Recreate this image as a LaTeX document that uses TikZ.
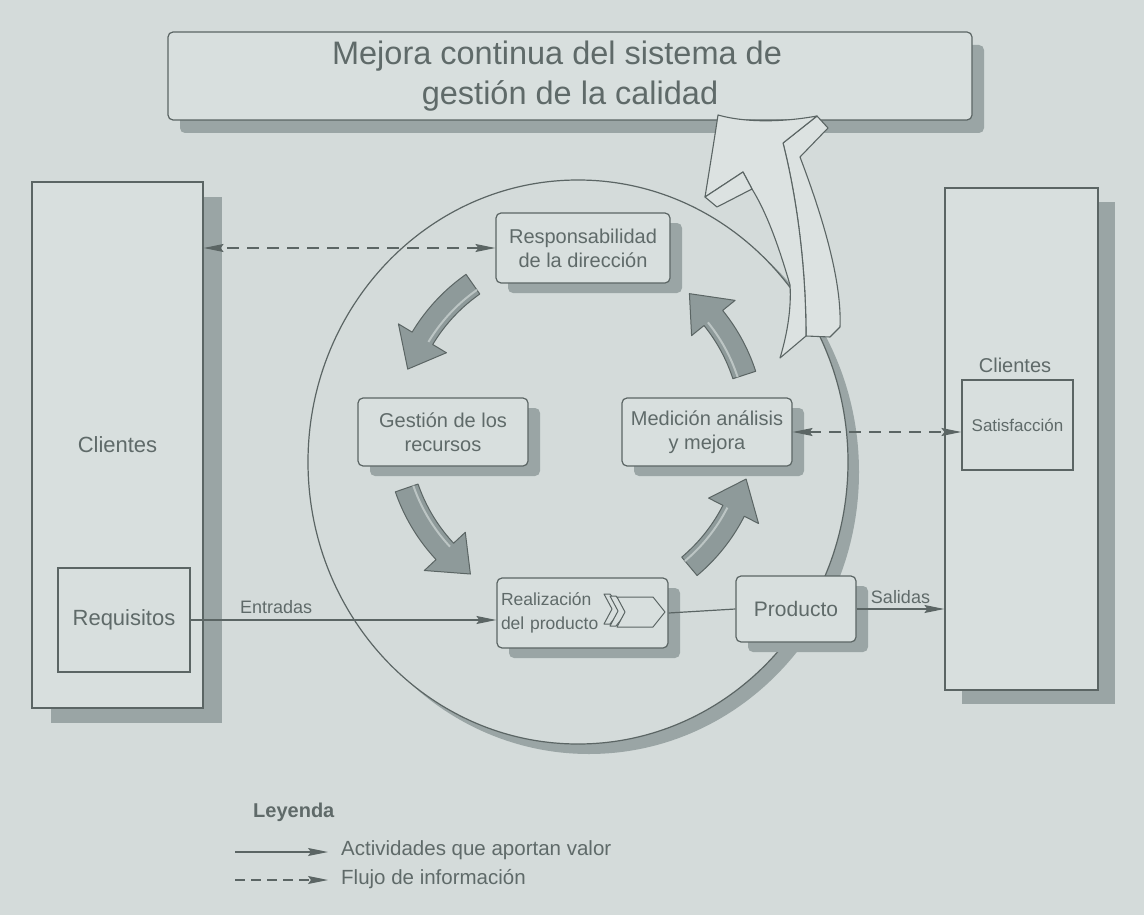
\documentclass[tikz,border=0pt]{standalone}
\usepackage{fontspec}
\setmainfont{Liberation Sans}
\usetikzlibrary{calc,arrows.meta,shadows}
\definecolor{bgc}{HTML}{D4DBDA}
\definecolor{boxc}{HTML}{D8DFDE}
\definecolor{linec}{HTML}{5B6564}
\definecolor{txtc}{HTML}{5F6A69}
\definecolor{shc}{HTML}{9AA5A5}
\definecolor{arrc}{HTML}{8E9A9A}
\definecolor{bevc}{HTML}{BCC5C4}
\definecolor{bigc}{HTML}{DCE2E1}
% cyclic grey arrow: #1 start angle, #2 tip angle (y-down system)
\newcommand\cycarrow[2]{%
  \pgfmathsetmacro\cycah{#2+11}%
  \filldraw[cycarr] plot[domain=#1:\cycah, samples=20] ({575+166*cos(\x)},{430+166*sin(\x)})
    -- ({575+150*cos(\cycah)},{430+150*sin(\cycah)})
    -- ({575+178*cos(#2)},{430+178*sin(#2)})
    -- ({575+206*cos(\cycah)},{430+206*sin(\cycah)})
    -- ({575+190*cos(\cycah)},{430+190*sin(\cycah)})
    -- plot[domain=\cycah:#1, samples=20] ({575+190*cos(\x)},{430+190*sin(\x)})
    -- cycle;
  \draw[bevel] plot[domain=#1:\cycah, samples=20] ({575+171*cos(\x)},{430+171*sin(\x)});
}
\begin{document}
\begin{tikzpicture}[x=1pt,y=-1pt,
  box/.style={draw=linec, line width=1.2pt, fill=boxc, rounded corners=5pt, text=txtc,
    font=\fontsize{20}{24}\selectfont, align=center, inner sep=2pt},
  shbox/.style={box, drop shadow={shadow xshift=12pt, shadow yshift=-10pt, fill=shc, opacity=1}},
  bigbox/.style={draw=linec, line width=1.2pt, fill=boxc, text=txtc,
    font=\fontsize{22}{26}\selectfont, inner sep=0pt},
  sqbox/.style={draw=linec, line width=1.2pt, fill=boxc, text=txtc, inner sep=0pt},
  lbl/.style={text=txtc, inner sep=1pt},
  solidarr/.style={draw=linec, line width=1.2pt, -{Stealth[length=20pt,width=8pt,inset=3pt]}},
  plainline/.style={draw=linec, line width=1.2pt},
  dasharr/.style={draw=linec, line width=1.2pt, dash pattern=on 12pt off 8pt,
    {Stealth[length=20pt,width=8pt,inset=3pt]}-{Stealth[length=20pt,width=8pt,inset=3pt]}},
  dasharrone/.style={draw=linec, line width=1.2pt, dash pattern=on 10pt off 6pt,
    -{Stealth[length=20pt,width=8pt,inset=3pt]}},
  cycarr/.style={fill=arrc, draw=linec, line width=1pt, line join=round},
  bevel/.style={draw=bevc, line width=2pt},
  bigarr/.style={fill=bigc, draw=linec, line width=1.1pt, line join=round}
]
\useasboundingbox (0,0) rectangle (1144,915);
\fill[bgc] (0,0) rectangle (1144,915);

% title
\node[box, minimum width=804pt, minimum height=88pt,
  drop shadow={shadow xshift=12pt, shadow yshift=-13pt, fill=shc, opacity=1},
  font=\fontsize{32.5}{40}\selectfont] (title) at (570,76)
  {\hspace*{-26pt}Mejora continua del sistema de\\gestión de la calidad};

% customer boxes
\node[bigbox, minimum width=171pt, minimum height=526pt,
  drop shadow={shadow xshift=19pt, shadow yshift=-15pt, fill=shc, opacity=1}] (cl) at (117.5,445) {Clientes};
\node[sqbox, minimum width=132pt, minimum height=104pt, font=\fontsize{22}{26}\selectfont] (req) at (124,620) {Requisitos};

\node[bigbox, minimum width=153pt, minimum height=502pt,
  drop shadow={shadow xshift=17pt, shadow yshift=-14pt, fill=shc, opacity=1}] (cr) at (1021.5,439) {};
\node[lbl, font=\fontsize{20}{24}\selectfont] (clr) at (1015,365) {Clientes};
\node[sqbox, minimum width=111pt, minimum height=90pt, font=\fontsize{17}{20}\selectfont] (sat) at (1017.5,425) {Satisfacción};

% circle with shadow
\fill[shc] (589,472) ellipse[x radius=270, y radius=282];
\filldraw[fill=bgc, draw=linec, line width=1.2pt] (578,462) ellipse[x radius=270, y radius=282];

% process boxes
\node[shbox, minimum width=174pt, minimum height=70pt] (resp) at (583,248) {Responsabilidad\\de la dirección};
\node[shbox, minimum width=170pt, minimum height=68pt] (gest) at (443,432) {Gestión de los\\recursos};
\node[shbox, minimum width=170pt, minimum height=68pt] (med) at (707,432) {Medición análisis\\y mejora};
\node[shbox, minimum width=171pt, minimum height=70pt, align=left, text width=163pt,
  font=\fontsize{17.5}{24}\selectfont] (real) at (582.5,613) {Realización\\del producto};
\node[shbox, minimum width=120pt, minimum height=66pt, font=\fontsize{21}{25}\selectfont] (prod) at (796,609) {Producto};

% chevrons inside Realizacion
\foreach \cx/\cy/\cw in {604/609/6, 610/611/6, 617/612/36}{
  \filldraw[fill=boxc, draw=linec, line width=1pt, line join=round]
    (\cx,\cy-15) -- (\cx+\cw,\cy-15) -- (\cx+\cw+12,\cy) -- (\cx+\cw,\cy+15) -- (\cx,\cy+15) -- (\cx+8,\cy) -- cycle;
}

% cyclic arrows
\cycarrow{-125}{-160}
\cycarrow{-199}{-234}
\cycarrow{-310}{-344}
\cycarrow{-18}{-50}

% big improvement arrow to the title
\filldraw[bigarr] (817,116) -- (828,128) -- (800,157)
  .. controls (822,215) and (842,280) .. (840,327) -- (830,337) -- (806,336)
  .. controls (806,260) and (795,190) .. (783,143) -- cycle;
\filldraw[bigarr] (718,115) .. controls (750,124) and (790,121) .. (817,116) -- (783,143)
  .. controls (795,190) and (806,260) .. (806,336) -- (780,358)
  .. controls (790,325) and (791,300) .. (790,285)
  .. controls (777,240) and (765,210) .. (752,189) -- (743,172) -- (705,197)
  .. controls (711,160) and (715,135) .. (718,115) -- cycle;
\filldraw[bigarr] (705,197) -- (717,207) -- (752,189) -- (743,172) -- cycle;

% connectors
\draw[dasharr] (resp.west) -- (resp.west -| cl.east);
\draw[dasharr] (med.east) -- (med.east -| sat.west);
\draw[solidarr] (req.east) -- (req.east -| real.west)
  node[pos=0.28, above=5pt, lbl, font=\fontsize{18}{22}\selectfont] (entr) {Entradas};
\draw[plainline] (real.east) -- (prod.west);
\draw[solidarr] (prod.east) -- (prod.east -| cr.west)
  node[pos=0.5, above=4pt, lbl, font=\fontsize{18}{22}\selectfont] (sal) {Salidas};

% legend
\node[lbl, anchor=west, font=\bfseries\fontsize{20}{24}\selectfont] (ley) at (252,812) {Leyenda};
\coordinate (l1a) at (235,852);
\coordinate (l1b) at (328,852);
\coordinate (l2a) at (235,880);
\coordinate (l2b) at (328,880);
\draw[solidarr] (l1a) -- (l1b);
\draw[dasharrone] (l2a) -- (l2b);
\node[lbl, anchor=west, font=\fontsize{20.5}{24}\selectfont] (t1) at (340,850) {Actividades que aportan valor};
\node[lbl, anchor=west, font=\fontsize{20.5}{24}\selectfont] (t2) at (340,879) {Flujo de información};
\end{tikzpicture}
\end{document}
